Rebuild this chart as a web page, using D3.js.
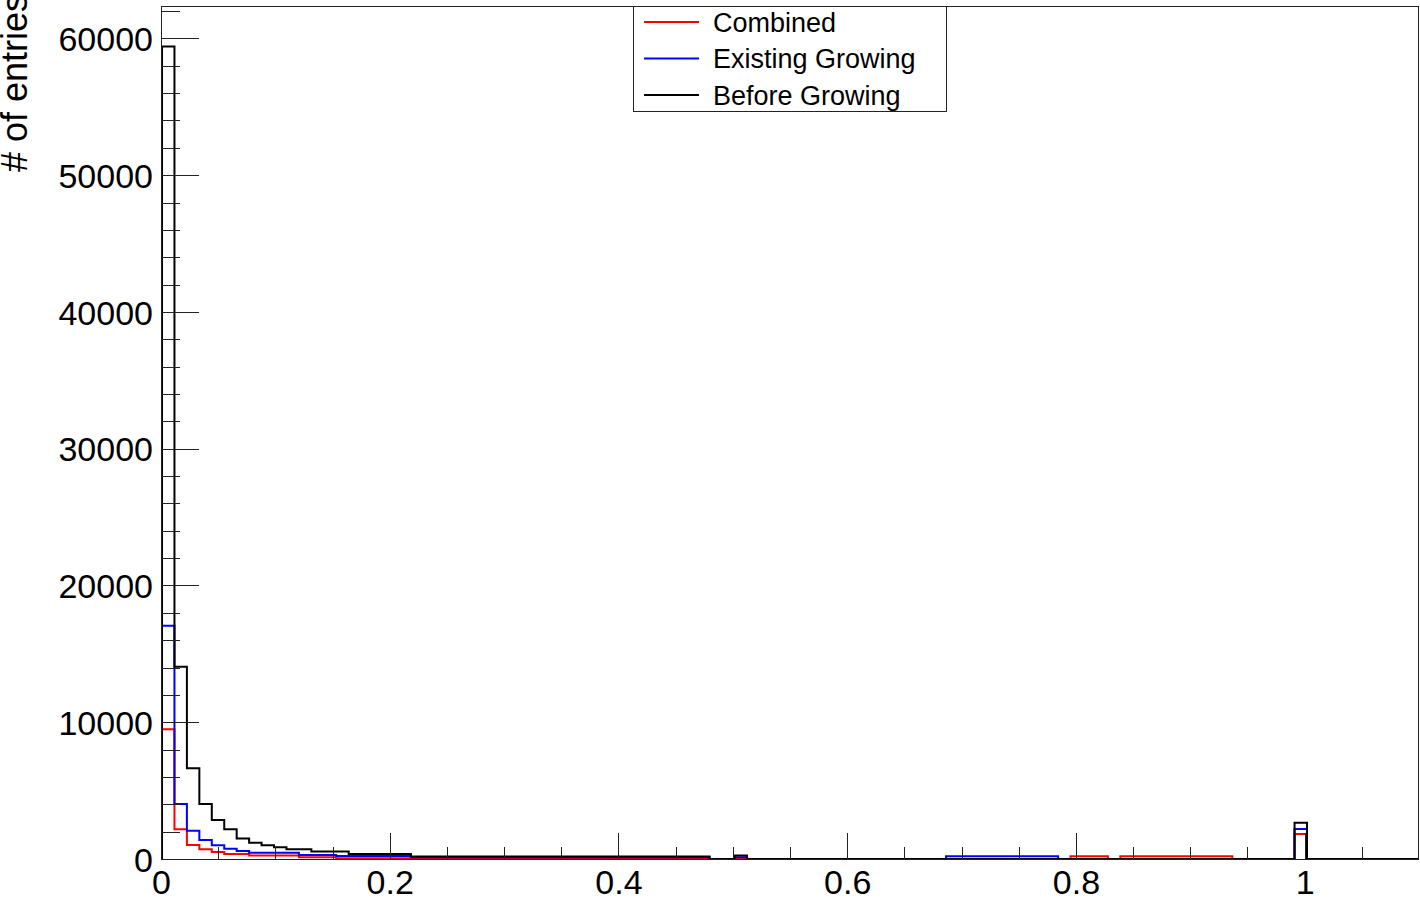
<!DOCTYPE html>
<meta charset="utf-8">
<style>
body { margin: 0; background: #fff; }
svg { font-family: "Liberation Sans", Arial, sans-serif; }
.tick line, .domain { shape-rendering: crispEdges; }
</style>
<svg width="1420" height="900"></svg>
<script src="https://d3js.org/d3.v7.min.js"></script>
<script>

// histogram binning: 102 bins over [-0.01, 1.1]
var binLow = -0.01, binHigh = 1.1, nBins = 102;

// bin contents, bin 0 .. bin 101
var combined = [
  0, 9480, 2170, 1020, 710, 510, 360, 360, 250, 250,
  250, 250, 120, 120, 120, 50, 50, 50, 50, 50,
  50, 50, 50, 50, 0, 0, 0, 0, 0, 0,
  0, 0, 0, 0, 0, 0, 0, 0, 0, 0,
  0, 0, 0, 0, 0, 0, 0, 0, 0, 0,
  0, 0, 0, 0, 0, 0, 0, 0, 0, 0,
  0, 0, 0, 0, 0, 0, 0, 0, 0, 0,
  0, 0, 0, 0, 210, 210, 210, 0, 210, 210,
  210, 210, 210, 210, 210, 210, 210, 0, 0, 0,
  0, 0, 1830, 0, 0, 0, 0, 0, 0, 0,
  0, 0
];

var existingGrowing = [
  0, 17060, 4020, 2070, 1390, 1000, 755, 585, 460, 460,
  460, 460, 290, 290, 290, 220, 220, 220, 220, 220,
  220, 120, 120, 120, 120, 120, 120, 120, 120, 120,
  120, 120, 120, 120, 120, 120, 120, 120, 120, 120,
  120, 120, 120, 120, 120, 0, 0, 120, 0, 0,
  0, 0, 0, 0, 0, 0, 0, 0, 0, 0,
  0, 0, 0, 0, 210, 210, 210, 210, 210, 210,
  210, 210, 210, 0, 0, 0, 0, 0, 0, 0,
  0, 0, 0, 0, 0, 0, 0, 0, 0, 0,
  0, 0, 2190, 0, 0, 0, 0, 0, 0, 0,
  0, 0
];

var beforeGrowing = [
  0, 59400, 14060, 6630, 4020, 2850, 2170, 1490, 1190, 1000,
  855, 710, 710, 540, 540, 540, 365, 365, 365, 365,
  365, 180, 180, 180, 180, 180, 180, 180, 180, 180,
  180, 180, 180, 180, 180, 180, 180, 180, 180, 180,
  180, 180, 180, 180, 180, 0, 0, 250, 0, 0,
  0, 0, 0, 0, 0, 0, 0, 0, 0, 0,
  0, 0, 0, 0, 0, 0, 0, 0, 0, 0,
  0, 0, 0, 0, 0, 0, 0, 0, 0, 0,
  0, 0, 0, 0, 0, 0, 0, 0, 0, 0,
  0, 0, 2650, 0, 0, 0, 0, 0, 0, 0,
  0, 0
];

var seriesNames = ["Combined", "Existing Growing", "Before Growing"];
var seriesColors = ["#ff0000", "#0000ff", "#000000"];

var xMajorTicks = [0, 0.2, 0.4, 0.6, 0.8, 1];
var xTickLabels = ["0", "0.2", "0.4", "0.6", "0.8", "1"];
var yMajorTicks = [0, 10000, 20000, 30000, 40000, 50000, 60000];
var yTickLabels = ["0", "10000", "20000", "30000", "40000", "50000", "60000"];
var yTitle = "# of entries";

var svg = d3.select("svg");
var frameL = 161, frameR = 1419, frameT = 6, frameB = 859;

var x = d3.scaleLinear().domain([0, 1.1]).range([frameL, frameR]);
var y = d3.scaleLinear().domain([0, 59400 * 1.05]).range([frameB, frameT]);

var binW = (binHigh - binLow) / nBins;
function edge(i) { return binLow + i * binW; }

svg.append("clipPath").attr("id", "frame")
  .append("rect")
    .attr("x", frameL).attr("y", frameT)
    .attr("width", frameR - frameL).attr("height", frameB - frameT);

// histograms, drawn in legend order so black ends on top
function histPath(vals) {
  var p = d3.path();
  p.moveTo(x(edge(0)), y(0));
  vals.forEach(function(v, i) {
    p.lineTo(x(edge(i)), y(v));
    p.lineTo(x(edge(i + 1)), y(v));
  });
  p.lineTo(x(edge(vals.length)), y(0));
  return p.toString();
}

[combined, existingGrowing, beforeGrowing].forEach(function(vals, k) {
  svg.append("path")
      .attr("clip-path", "url(#frame)")
      .attr("d", histPath(vals))
      .attr("fill", "none")
      .attr("stroke", seriesColors[k])
      .attr("stroke-width", 2)
      .attr("stroke-linejoin", "miter");
});

// axes (ticks point inward, like ROOT)
var yMinor = d3.range(0, 63000, 2000).filter(function(v) { return v % 10000 !== 0; });
var xMinor = d3.range(0, 1.1, 0.05).filter(function(v) { return Math.abs(v * 5 - Math.round(v * 5)) > 1e-6; });

svg.append("g")
    .attr("transform", "translate(" + frameL + ",0)")
    .call(d3.axisLeft(y).tickValues(yMinor).tickSize(-19).tickFormat(""))
    .call(function(g) { g.select(".domain").remove(); });

svg.append("g")
    .attr("transform", "translate(" + frameL + ",0)")
    .call(d3.axisLeft(y).tickValues(yMajorTicks).tickSize(-38).tickPadding(8)
      .tickFormat(function(d, i) { return yTickLabels[i]; }))
    .call(function(g) {
      g.select(".domain").remove();
      g.selectAll("text").attr("font-size", 34).attr("font-family", "Liberation Sans, Arial, sans-serif")
        .attr("fill", "#000").attr("dy", "0.36em");
    });

svg.append("g")
    .attr("transform", "translate(0," + frameB + ")")
    .call(d3.axisBottom(x).tickValues(xMinor).tickSize(-12).tickFormat(""))
    .call(function(g) { g.select(".domain").remove(); });

svg.append("g")
    .attr("transform", "translate(0," + frameB + ")")
    .call(d3.axisBottom(x).tickValues(xMajorTicks).tickSize(-26).tickPadding(11)
      .tickFormat(function(d, i) { return xTickLabels[i]; }))
    .call(function(g) {
      g.select(".domain").remove();
      g.selectAll("text").attr("font-size", 34).attr("font-family", "Liberation Sans, Arial, sans-serif")
        .attr("fill", "#000").attr("dy", "0.72em");
    });

svg.selectAll(".tick line").attr("stroke", "#222");

// frame
svg.append("rect")
    .attr("x", frameL + 0.5).attr("y", frameT + 0.5)
    .attr("width", frameR - frameL - 1).attr("height", frameB - frameT)
    .attr("fill", "none").attr("stroke", "#222").attr("stroke-width", 1)
    .style("shape-rendering", "crispEdges");

// y title
svg.append("text")
    .attr("transform", "translate(27,-6) rotate(-90)")
    .attr("text-anchor", "end")
    .attr("font-size", 36)
    .text(yTitle);

// legend
var legend = svg.append("g");
legend.append("rect")
    .attr("x", 633.5).attr("y", 6.5).attr("width", 313).attr("height", 105)
    .attr("fill", "#fff").attr("stroke", "#222").attr("stroke-width", 1);

var legendY = d3.scalePoint().domain(seriesNames).range([22, 95]);
seriesNames.forEach(function(name, k) {
  legend.append("line")
      .attr("x1", 644).attr("x2", 699)
      .attr("y1", legendY(name)).attr("y2", legendY(name))
      .attr("stroke", seriesColors[k]).attr("stroke-width", 2);
  legend.append("text")
      .attr("x", 713).attr("y", legendY(name)).attr("dy", "0.36em")
      .attr("font-size", 27)
      .text(name);
});

</script>
